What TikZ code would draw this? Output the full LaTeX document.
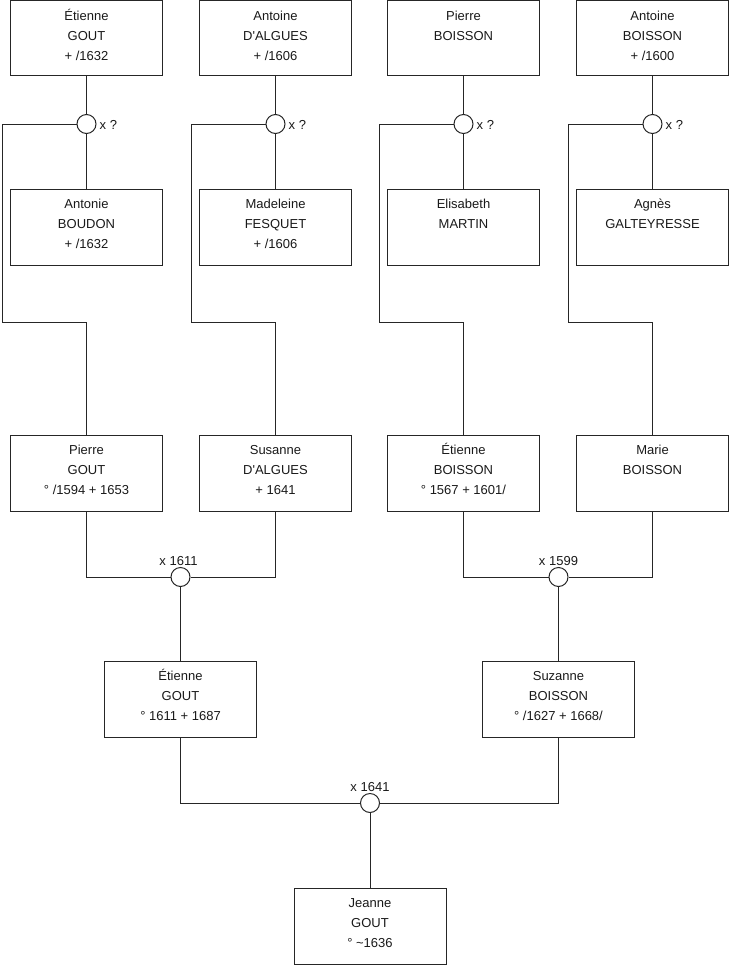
\documentclass[tikz,border=0pt]{standalone}
\usepackage{fontspec}
\setmainfont{Liberation Sans}[Ligatures=TeXOff]
\begin{document}
\begin{tikzpicture}[x=1pt,y=-1pt,
  pbox/.style={draw=black!85, line width=1pt, minimum width=152pt, minimum height=76pt, inner sep=0pt},
  ptxt/.style={anchor=north, inner sep=0pt, align=center, font=\fontsize{13}{20}\selectfont, text=black!90},
  mcirc/.style={draw=black!85, line width=1pt, circle, minimum size=19pt, inner sep=0pt, fill=white},
  mlab/.style={inner sep=2pt, font=\fontsize{13}{16}\selectfont, text=black!90},
  conn/.style={draw=black!85, line width=1pt}]
\useasboundingbox (0,0) rectangle (740,975);
\newcommand{\pstrut}{\rule{0pt}{14pt}}
% row 1
\node[pbox, minimum height=75pt] (a1) at (86.5,38) {};
\node[pbox, minimum height=75pt] (a2) at (275.5,38) {};
\node[pbox, minimum height=75pt] (a3) at (463.5,38) {};
\node[pbox, minimum height=75pt] (a4) at (652.5,38) {};
\node[ptxt] (ta1) at ([yshift=-6pt]a1.north) {\pstrut Étienne\\GOUT\\+ /1632};
\node[ptxt] (ta2) at ([yshift=-6pt]a2.north) {\pstrut Antoine\\D'ALGUES\\+ /1606};
\node[ptxt] (ta3) at ([yshift=-6pt]a3.north) {\pstrut Pierre\\BOISSON};
\node[ptxt] (ta4) at ([yshift=-6pt]a4.north) {\pstrut Antoine\\BOISSON\\+ /1600};
% marriages row 1
\node[mcirc] (m1) at (86.5,124) {};
\node[mcirc] (m2) at (275.5,124) {};
\node[mcirc] (m3) at (463.5,124) {};
\node[mcirc] (m4) at (652.5,124) {};
\foreach \m in {m1,m2,m3,m4}{\node[mlab, anchor=west] (l\m) at ([xshift=1pt,yshift=-1pt]\m.east) {x ?};}
% row 2
\node[pbox] (b1) at (86.5,227) {};
\node[pbox] (b2) at (275.5,227) {};
\node[pbox] (b3) at (463.5,227) {};
\node[pbox] (b4) at (652.5,227) {};
\node[ptxt] (tb1) at ([yshift=-6pt]b1.north) {\pstrut Antonie\\BOUDON\\+ /1632};
\node[ptxt] (tb2) at ([yshift=-6pt]b2.north) {\pstrut Madeleine\\FESQUET\\+ /1606};
\node[ptxt] (tb3) at ([yshift=-6pt]b3.north) {\pstrut Elisabeth\\MARTIN};
\node[ptxt] (tb4) at ([yshift=-6pt]b4.north) {\pstrut Agnès\\GALTEYRESSE};
% row 3
\node[pbox] (c1) at (86.5,473) {};
\node[pbox] (c2) at (275.5,473) {};
\node[pbox] (c3) at (463.5,473) {};
\node[pbox] (c4) at (652.5,473) {};
\node[ptxt] (tc1) at ([yshift=-6pt]c1.north) {\pstrut Pierre\\GOUT\\° /1594 + 1653};
\node[ptxt] (tc2) at ([yshift=-6pt]c2.north) {\pstrut Susanne\\D'ALGUES\\+ 1641};
\node[ptxt] (tc3) at ([yshift=-6pt]c3.north) {\pstrut Étienne\\BOISSON\\° 1567 + 1601/};
\node[ptxt] (tc4) at ([yshift=-6pt]c4.north) {\pstrut Marie\\BOISSON};
% marriages row 3
\node[mcirc] (m5) at (180.5,577) {};
\node[mcirc] (m6) at (558.5,577) {};
\node[mlab, anchor=south] (lm5) at ([xshift=-2pt,yshift=-1pt]m5.north) {x 1611};
\node[mlab, anchor=south] (lm6) at ([yshift=-1pt]m6.north) {x 1599};
% row 4
\node[pbox] (d1) at (180.5,699) {};
\node[pbox] (d2) at (558.5,699) {};
\node[ptxt] (td1) at ([yshift=-6pt]d1.north) {\pstrut Étienne\\GOUT\\° 1611 + 1687};
\node[ptxt] (td2) at ([yshift=-6pt]d2.north) {\pstrut Suzanne\\BOISSON\\° /1627 + 1668/};
% marriage row 4
\node[mcirc] (m7) at (370,803) {};
\node[mlab, anchor=south] (lm7) at ([yshift=-1pt]m7.north) {x 1641};
% row 5
\node[pbox] (e1) at (370,926) {};
\node[ptxt] (te1) at ([yshift=-6pt]e1.north) {\pstrut Jeanne\\GOUT\\° \textasciitilde1636};
% rails
\coordinate (r1) at (2,322);
\coordinate (r2) at (191,322);
\coordinate (r3) at (379,322);
\coordinate (r4) at (568,322);
% connectors
\foreach \i in {1,2,3,4}{
  \draw[conn] (a\i.south) -- (m\i.north);
  \draw[conn] (m\i.south) -- (b\i.north);
  \draw[conn] (m\i.west) -| (r\i) -| (c\i.north);
}
\draw[conn] (c1.south) |- (m5.west);
\draw[conn] (c2.south) |- (m5.east);
\draw[conn] (c3.south) |- (m6.west);
\draw[conn] (c4.south) |- (m6.east);
\draw[conn] (m5.south) -- (d1.north);
\draw[conn] (m6.south) -- (d2.north);
\draw[conn] (d1.south) |- (m7.west);
\draw[conn] (d2.south) |- (m7.east);
\draw[conn] (m7.south) -- (e1.north);
\end{tikzpicture}
\end{document}
